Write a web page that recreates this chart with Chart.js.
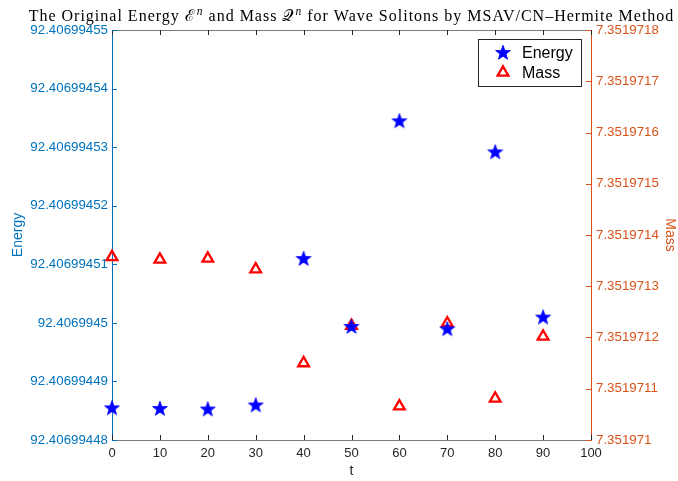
<!DOCTYPE html>
<html>
<head>
<meta charset="utf-8">
<script src="https://cdn.jsdelivr.net/npm/chart.js@4.4.1/dist/chart.umd.min.js"></script>
<style>
  html, body { margin: 0; padding: 0; background: #fff; }
  #wrap { width: 678px; height: 481px; }
</style>
</head>
<body>
<div id="wrap"><canvas id="solitonChart"></canvas></div>
<script>
// Time samples and the two conserved quantities
const times = [0, 10, 20, 30, 40, 50, 60, 70, 80, 90];
const energy = [92.4069944854, 92.4069944853, 92.4069944852, 92.4069944859, 92.4069945109,
                92.4069944993, 92.4069945344, 92.4069944989, 92.4069945291, 92.4069945009];
const mass = [7.351971357, 7.351971352, 7.351971354, 7.351971333, 7.351971150,
              7.351971223, 7.3519710657, 7.351971228, 7.351971081, 7.351971202];

// Axis tick labels
const timeTicks = ['0', '10', '20', '30', '40', '50', '60', '70', '80', '90', '100'];
const energyTicks = ['92.40699448', '92.40699449', '92.4069945', '92.40699451',
                     '92.40699452', '92.40699453', '92.40699454', '92.40699455'];
const massTicks = ['7.351971', '7.3519711', '7.3519712', '7.3519713', '7.3519714',
                   '7.3519715', '7.3519716', '7.3519717', '7.3519718'];

// title pieces: plain text, with superscripts after the script letters
const titleParts = [
    { text: 'The Original Energy ' },
    { text: '\u2130' },
    { text: 'n', sup: true },
    { text: ' and Mass ' },
    { text: '\uD835\uDCAC' },
    { text: 'n', sup: true },
    { text: ' for Wave Solitons by MSAV/CN\u2013Hermite Method' }
];

const BLUE_AXIS = '#0072BD';
const ORANGE_AXIS = '#D95319';
const DARK = '#262626';
const sansFont = 'Helvetica, Arial, "Liberation Sans", sans-serif';
const serifFont = '"Liberation Serif", "DejaVu Serif", serif';

// filled five-point star used as marker
function makeStar(outer, inner, color) {
    const size = Math.ceil(outer * 2 + 2);
    const c = document.createElement('canvas');
    c.width = size;
    c.height = size;
    const g = c.getContext('2d');
    const cx = size / 2, cy = size / 2;
    g.beginPath();
    for (let i = 0; i < 10; i++) {
        const r = i % 2 === 0 ? outer : inner;
        const a = -Math.PI / 2 + i * Math.PI / 5;
        const px = cx + r * Math.cos(a), py = cy + r * Math.sin(a);
        if (i === 0) g.moveTo(px, py); else g.lineTo(px, py);
    }
    g.closePath();
    g.fillStyle = color;
    g.fill();
    g.strokeStyle = color;
    g.lineWidth = 0.8;
    g.stroke();
    return c;
}
const starMarker = makeStar(7.8, 3.2, '#0000FF');

function setTicks(labels) {
    return function(scale) {
        scale.ticks = labels.map(l => ({ value: Number(l), label: l }));
    };
}
function tickLabel(labels) {
    return function(value, index) { return labels[index]; };
}

function triangle(ctx, x, y, r) {
    const s = Math.sin(2 * Math.PI / 3), c = Math.cos(2 * Math.PI / 3);
    ctx.beginPath();
    ctx.moveTo(x, y - r);
    ctx.lineTo(x + r * s, y - r * c);
    ctx.lineTo(x - r * s, y - r * c);
    ctx.closePath();
}

// serif title centred over the axes, with raised italic n
const mathTitle = {
    id: 'mathTitle',
    afterDraw(chart) {
        const { ctx, chartArea: a } = chart;
        const baseFont = '16px ' + serifFont;
        const supFont = 'italic 11.5px ' + serifFont;
        ctx.save();
        ctx.letterSpacing = '1px';
        ctx.fillStyle = '#000';
        ctx.textBaseline = 'alphabetic';
        ctx.textAlign = 'left';
        let total = 0;
        const widths = titleParts.map(p => {
            ctx.font = p.sup ? supFont : baseFont;
            const w = ctx.measureText(p.text).width + (p.sup ? 1 : 0);
            total += w;
            return w;
        });
        let x = (a.left + a.right) / 2 - total / 2;
        const baseline = 21;
        titleParts.forEach((p, i) => {
            ctx.font = p.sup ? supFont : baseFont;
            ctx.fillText(p.text, x + (p.sup ? 1 : 0), p.sup ? baseline - 6 : baseline);
            x += widths[i];
        });
        ctx.restore();
    }
};

// inward tick marks and the top edge of the box
const boxTicks = {
    id: 'boxTicks',
    afterDatasetsDraw(chart) {
        const { ctx, chartArea: a, scales } = chart;
        const len = 5;
        ctx.save();
        ctx.lineWidth = 1;
        ctx.strokeStyle = '#7a7a7a';
        ctx.beginPath();
        ctx.moveTo(a.left, a.top + 0.5);
        ctx.lineTo(a.right, a.top + 0.5);
        ctx.stroke();

        ctx.strokeStyle = DARK;
        ctx.beginPath();
        scales.x.ticks.forEach(t => {
            const px = Math.round(scales.x.getPixelForValue(t.value)) + 0.5;
            ctx.moveTo(px, a.bottom);
            ctx.lineTo(px, a.bottom - len);
            ctx.moveTo(px, a.top);
            ctx.lineTo(px, a.top + len);
        });
        ctx.stroke();

        ctx.strokeStyle = BLUE_AXIS;
        ctx.beginPath();
        scales.yE.ticks.forEach(t => {
            const py = Math.round(scales.yE.getPixelForValue(t.value)) + 0.5;
            ctx.moveTo(a.left, py);
            ctx.lineTo(a.left + len, py);
        });
        ctx.stroke();

        ctx.strokeStyle = ORANGE_AXIS;
        ctx.beginPath();
        scales.yM.ticks.forEach(t => {
            const py = Math.round(scales.yM.getPixelForValue(t.value)) + 0.5;
            ctx.moveTo(a.right, py);
            ctx.lineTo(a.right - len, py);
        });
        ctx.stroke();
        ctx.restore();
    }
};

// boxed legend in the upper right corner of the axes
const boxLegend = {
    id: 'boxLegend',
    afterDraw(chart) {
        const { ctx, chartArea: a } = chart;
        const w = 103, h = 47;
        const x0 = a.right - 10 - w, y0 = a.top + 9;
        ctx.save();
        ctx.fillStyle = '#fff';
        ctx.fillRect(x0, y0, w, h);
        ctx.strokeStyle = DARK;
        ctx.lineWidth = 1;
        ctx.strokeRect(Math.round(x0) + 0.5, Math.round(y0) + 0.5, w, h);
        ctx.font = '16px ' + sansFont;
        ctx.textBaseline = 'middle';
        chart.data.datasets.forEach((ds, i) => {
            const cy = y0 + 14 + i * 19.5;
            const mx = x0 + 25;
            if (ds.pointStyle === 'triangle') {
                ctx.strokeStyle = ds.borderColor;
                ctx.lineWidth = ds.borderWidth;
                triangle(ctx, mx, cy, ds.pointRadius);
                ctx.stroke();
            } else {
                const img = ds.pointStyle;
                ctx.drawImage(img, mx - img.width / 2, cy - img.height / 2);
            }
            ctx.fillStyle = '#000';
            ctx.fillText(ds.label, x0 + 44, cy + 1);
        });
        ctx.restore();
    }
};

new Chart(document.getElementById('solitonChart'), {
    type: 'scatter',
    data: {
        datasets: [{
            label: 'Energy',
            data: times.map((t, i) => ({ x: t, y: energy[i] })),
            yAxisID: 'yE',
            pointStyle: starMarker,
            pointRadius: 8,
            borderWidth: 0,
            backgroundColor: '#0000FF',
            borderColor: '#0000FF',
            clip: false
        }, {
            label: 'Mass',
            data: times.map((t, i) => ({ x: t, y: mass[i] })),
            yAxisID: 'yM',
            pointStyle: 'triangle',
            pointRadius: 6.2,
            borderWidth: 2.3,
            backgroundColor: 'rgba(0,0,0,0)',
            borderColor: '#FF0000',
            clip: false
        }]
    },
    options: {
        responsive: true,
        maintainAspectRatio: false,
        animation: false,
        layout: { padding: { top: 30 } },
        plugins: {
            legend: { display: false },
            tooltip: { enabled: false },
            title: { display: false }
        },
        scales: {
            x: {
                type: 'linear',
                position: 'bottom',
                min: 0,
                max: 100,
                bounds: 'data',
                afterBuildTicks: setTicks(timeTicks),
                afterFit(scale) { scale.height = 41; },
                grid: { display: false, drawTicks: false },
                border: { display: true, color: '#7a7a7a', width: 1 },
                ticks: {
                    callback: tickLabel(timeTicks),
                    color: DARK,
                    padding: 6,
                    maxRotation: 0,
                    autoSkip: false,
                    font: { family: sansFont, size: 13 }
                },
                title: {
                    display: true,
                    text: 't',
                    color: DARK,
                    padding: { top: 0, bottom: 1 },
                    font: { family: sansFont, size: 14 }
                }
            },
            yE: {
                type: 'linear',
                position: 'left',
                min: Number(energyTicks[0]),
                max: Number(energyTicks[energyTicks.length - 1]),
                bounds: 'data',
                afterBuildTicks: setTicks(energyTicks),
                afterFit(scale) { scale.width = 112; },
                grid: { display: false, drawTicks: false },
                border: { display: true, color: BLUE_AXIS, width: 1 },
                ticks: {
                    callback: tickLabel(energyTicks),
                    color: BLUE_AXIS,
                    padding: 4,
                    autoSkip: false,
                    font: { family: sansFont, size: 13.3 }
                },
                title: {
                    display: true,
                    text: 'Energy',
                    color: BLUE_AXIS,
                    padding: { top: 9.5, bottom: 0 },
                    font: { family: sansFont, size: 14 }
                }
            },
            yM: {
                type: 'linear',
                position: 'right',
                min: Number(massTicks[0]),
                max: Number(massTicks[massTicks.length - 1]),
                bounds: 'data',
                afterBuildTicks: setTicks(massTicks),
                afterFit(scale) { scale.width = 87; },
                grid: { display: false, drawTicks: false },
                border: { display: true, color: ORANGE_AXIS, width: 1 },
                ticks: {
                    callback: tickLabel(massTicks),
                    color: ORANGE_AXIS,
                    padding: 5,
                    autoSkip: false,
                    font: { family: sansFont, size: 13.3 }
                },
                title: {
                    display: true,
                    text: 'Mass',
                    color: ORANGE_AXIS,
                    padding: { top: 0, bottom: 0 },
                    font: { family: sansFont, size: 14 }
                }
            }
        }
    },
    plugins: [boxTicks, boxLegend, mathTitle]
});
</script>
</body>
</html>
